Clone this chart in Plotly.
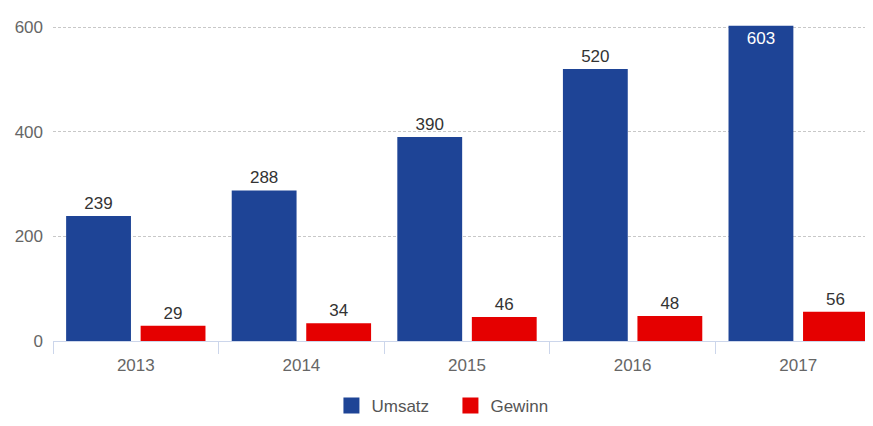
import plotly.graph_objects as go

years = ["2013", "2014", "2015", "2016", "2017"]
umsatz = [239, 288, 390, 520, 603]
gewinn = [29, 34, 46, 48, 56]
y_ticks = [0, 200, 400, 600]

BLUE = "#1e4496"
RED = "#e50000"
FONT = "Liberation Sans, Arial, sans-serif"

fig = go.Figure()
fig.add_bar(
    x=years, y=umsatz, name="Umsatz", marker=dict(color=BLUE, line=dict(width=0)),
    text=[str(v) for v in umsatz],
    textposition=["outside"] * 4 + ["inside"],
    insidetextanchor="end",
    insidetextfont=dict(color="white", size=17, family=FONT),
    outsidetextfont=dict(color="#333333", size=17, family=FONT),
    cliponaxis=False, showlegend=False,
)
fig.add_bar(
    x=years, y=gewinn, name="Gewinn", marker=dict(color=RED, line=dict(width=0)),
    text=[str(v) for v in gewinn], textposition="outside",
    outsidetextfont=dict(color="#333333", size=17, family=FONT),
    cliponaxis=False, showlegend=False,
)
# legend proxies
for name, col in [("Umsatz", BLUE), ("Gewinn", RED)]:
    fig.add_scatter(x=[None], y=[None], mode="markers", name=name,
                    marker=dict(symbol="square", size=17, color=col))

fig.update_layout(
    width=873, height=426,
    margin=dict(l=45, r=0, t=14, b=93),
    paper_bgcolor="white", plot_bgcolor="white",
    font=dict(family=FONT, size=17, color="#666666"),
    barmode="group", bargap=0.1, bargroupgap=0.13,
    uniformtext=dict(minsize=17, mode="show"),
    legend=dict(orientation="h", x=0.480, xanchor="center", y=0.066, yanchor="middle",
                yref="container", font=dict(size=17, color="#555555"),
                itemwidth=30, entrywidth=74, traceorder="normal"),
)
fig.update_xaxes(
    type="category", range=[-0.5, 4.5],
    showline=True, linecolor="#ccd6eb", linewidth=1,
    ticks="outside", tickson="boundaries", ticklen=12, tickcolor="#ccd6eb",
    ticklabelstandoff=9,
    showgrid=False, tickfont=dict(size=17, color="#666666"),
)
fig.update_yaxes(
    range=[0, 610], tickvals=y_ticks, ticktext=[str(v) for v in y_ticks],
    showgrid=True, gridcolor="#c8c8c8", griddash="3px,2px", gridwidth=1,
    zeroline=False, showline=False, ticks="", ticklabelstandoff=9,
    tickfont=dict(size=17, color="#666666"),
)
fig.write_html("out.html")
